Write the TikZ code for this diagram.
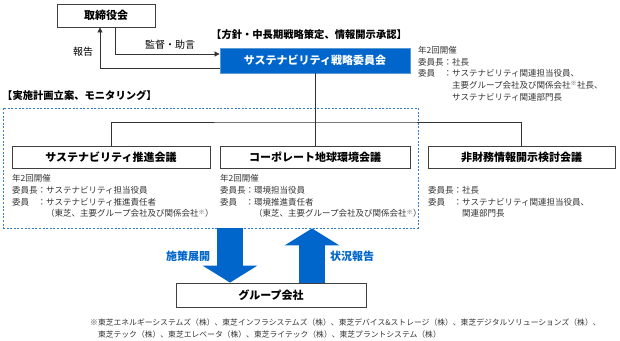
\documentclass[tikz,border=0pt]{standalone}
\usepackage{fontspec}
\setmainfont{Noto Sans CJK JP}
\usepackage{tikz}
\usetikzlibrary{positioning,calc,arrows.meta}
\definecolor{corpblue}{HTML}{0066CC}
\definecolor{edgeblue}{HTML}{5B9BD5}
\definecolor{dashblue}{HTML}{2F80D6}
\definecolor{txtgray}{HTML}{333333}

\begin{document}
\begin{tikzpicture}[x=1pt, y=-1pt,
    box/.style={draw=black!75, line width=0.8pt, minimum height=22pt, inner sep=0pt,
                font=\fontsize{11}{13}\selectfont\bfseries, align=center},
    hibox/.style={box, fill=corpblue, draw=edgeblue, text=white, minimum height=25pt},
    memo/.style={anchor=north west, inner sep=0pt, align=left, text=txtgray,
                 font=\fontsize{8.5}{11.7}\selectfont},
    head/.style={anchor=west, inner sep=0pt, font=\fontsize{10.3}{12}\selectfont\bfseries},
    lbl/.style={inner sep=0pt, font=\fontsize{10}{12}\selectfont},
    flowlbl/.style={inner sep=0pt, text=corpblue, font=\fontsize{11}{13}\selectfont\bfseries},
    arr/.style={-{Triangle[length=5pt,width=5pt]}, line width=0.7pt, black!80},
    bigarrow/.style={line width=26pt, corpblue, -{Triangle[length=17pt,width=54pt]}},
  ]
  \useasboundingbox (0,0) rectangle (620,340);

  % top level
  \node[box, minimum width=98pt, minimum height=23pt] (board) at (106,15.5) {取締役会};
  \node[hibox, minimum width=190pt] (strat) at (315,60.5) {サステナビリティ戦略委員会};
  \node[head] at (211,35) {【方針・中長期戦略策定、情報開示承認】};
  \node[memo] at (418,46) {年2回開催\\委員長：社長\\委員　：サステナビリティ関連担当役員、\\
    \phantom{委員　：}主要グループ会社及び関係会社\textsuperscript{※}社長、\\
    \phantom{委員　：}サステナビリティ関連部門長};

  \draw[arr] ([yshift=-7.5pt]strat.west) -| ([xshift=-6pt]board.south);
  \draw[arr] ([xshift=9pt]board.south) |- ([yshift=6.5pt]strat.west);
  \node[lbl] at (83,52) {報告};
  \node[lbl] at (170,45) {監督・助言};

  % committees
  \node[head] at (2,95) {【実施計画立案、モニタリング】};
  \node[draw=dashblue, line width=0.8pt, dash pattern=on 2pt off 1.6pt,
        minimum width=415pt, minimum height=120pt] (plan) at (210.5,168) {};

  \node[box, minimum width=198pt] (promo) at (111,157) {サステナビリティ推進会議};
  \node[box, minimum width=190pt] (env)   at (315,157) {コーポレート地球環境会議};
  \node[box, minimum width=187pt] (disc)  at (521.5,157) {非財務情報開示検討会議};
  \coordinate (bus) at (315,122);
  \draw[line width=0.7pt, black!80] (strat) -- (env);
  \draw[line width=0.7pt, black!80] (promo.north) |- (bus) -| (disc.north);

  \node[memo] at (12,174.5) {年2回開催\\委員長：サステナビリティ担当役員\\委員　：サステナビリティ推進責任者\\
    \phantom{委員　：}（東芝、主要グループ会社及び関係会社\textsuperscript{※}）};
  \node[memo] at (220,174.5) {年2回開催\\委員長：環境担当役員\\委員　：環境推進責任者\\
    \phantom{委員　：}（東芝、主要グループ会社及び関係会社\textsuperscript{※}）};
  \node[memo] at (428,186.2) {委員長：社長\\委員　：サステナビリティ関連担当役員、\\
    \phantom{委員　：}関連部門長};

  % group companies
  \node[box, minimum width=190pt, minimum height=24pt] (group) at (271,295) {グループ会社};
  \coordinate (dn) at ([xshift=-41pt]group.north);
  \coordinate (up) at ([xshift=41pt]group.north);
  \draw[bigarrow] (dn |- plan.south) -- (dn);
  \draw[bigarrow] (up) -- (up |- plan.south);
  \node[flowlbl] at (188,256) {施策展開};
  \node[flowlbl] at (352,256) {状況報告};

  \node[memo, font=\fontsize{7.8}{12}\selectfont] at (90,319) {※東芝エネルギーシステムズ（株）、東芝インフラシステムズ（株）、東芝デバイス\&ストレージ（株）、東芝デジタルソリューションズ（株）、\\
    \phantom{※}東芝テック（株）、東芝エレベータ（株）、東芝ライテック（株）、東芝プラントシステム（株）};
\end{tikzpicture}
\end{document}
